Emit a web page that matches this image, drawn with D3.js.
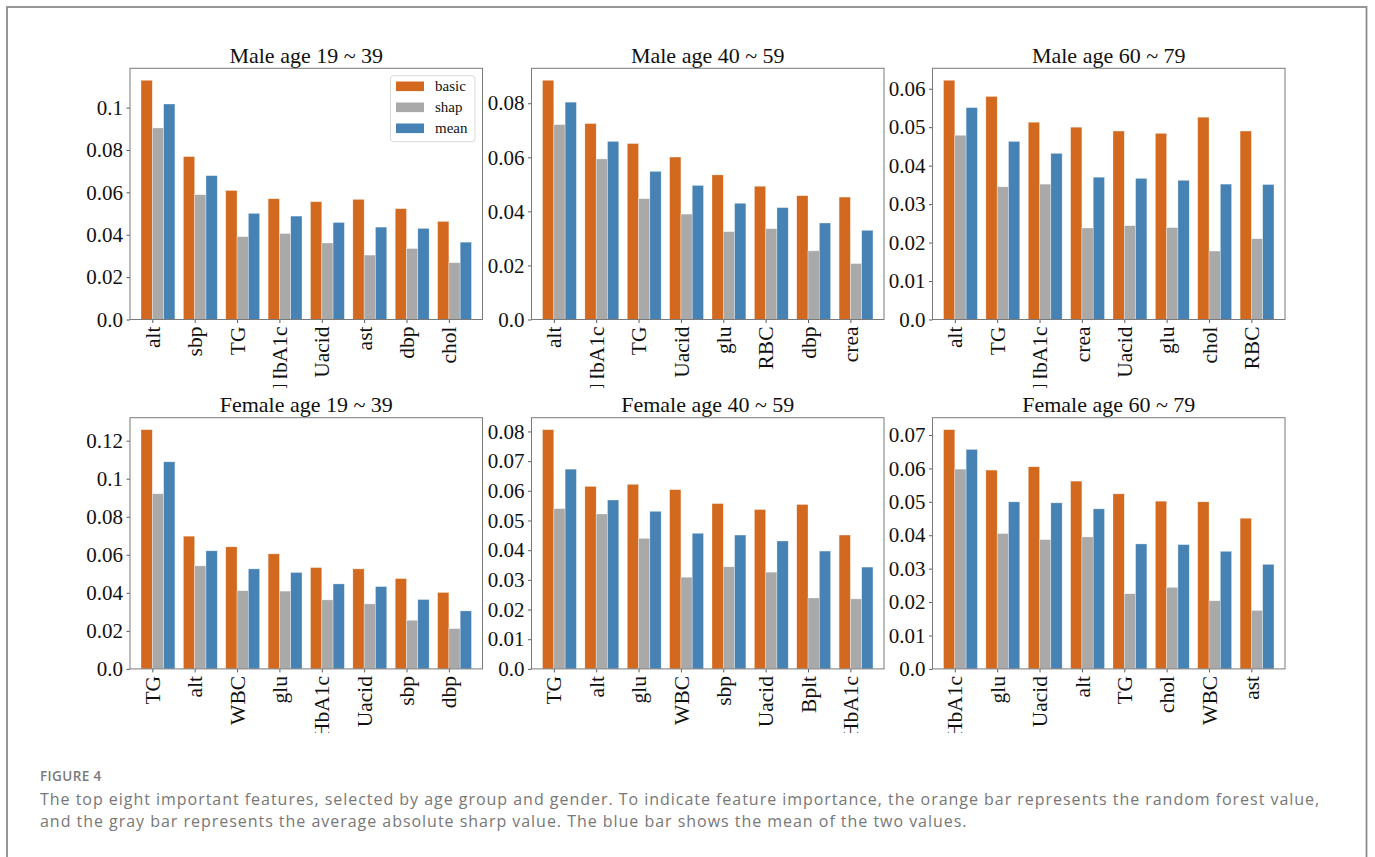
<!DOCTYPE html>
<html>
<head>
<meta charset="utf-8">
<script src="https://cdn.jsdelivr.net/npm/d3@7"></script>
<style>
  html, body { margin: 0; padding: 0; background: #fff; }
  svg { display: block; }
</style>
</head>
<body>
<svg id="fig" width="1375" height="857"></svg>
<script>
// Series names and colours
const seriesNames = ["basic", "shap", "mean"];
const seriesColors = ["#d2691e", "#a9a9a9", "#4682b4"];

// Male 19 ~ 39
const featM1 = ["alt", "sbp", "TG", "HbA1c", "Uacid", "ast", "dbp", "chol"];
const basicM1 = [0.1129, 0.0769, 0.0609, 0.0570, 0.0556, 0.0567, 0.0523, 0.0463];
const shapM1  = [0.0904, 0.0589, 0.0391, 0.0406, 0.0361, 0.0304, 0.0335, 0.0268];
const meanM1  = [0.1017, 0.0679, 0.0501, 0.0488, 0.0458, 0.0436, 0.0430, 0.0365];
const ticksM1 = ["0.0", "0.02", "0.04", "0.06", "0.08", "0.1"];

// Male 40 ~ 59
const featM2 = ["alt", "HbA1c", "TG", "Uacid", "glu", "RBC", "dbp", "crea"];
const basicM2 = [0.0885, 0.0725, 0.0651, 0.0601, 0.0535, 0.0493, 0.0458, 0.0453];
const shapM2  = [0.0721, 0.0594, 0.0447, 0.0390, 0.0325, 0.0336, 0.0254, 0.0207];
const meanM2  = [0.0804, 0.0659, 0.0548, 0.0496, 0.0430, 0.0414, 0.0357, 0.0330];
const ticksM2 = ["0.0", "0.02", "0.04", "0.06", "0.08"];

// Male 60 ~ 79
const featM3 = ["alt", "TG", "HbA1c", "crea", "Uacid", "glu", "chol", "RBC"];
const basicM3 = [0.0622, 0.0580, 0.0513, 0.0500, 0.0490, 0.0484, 0.0526, 0.0490];
const shapM3  = [0.0479, 0.0345, 0.0352, 0.0238, 0.0244, 0.0239, 0.0178, 0.0210];
const meanM3  = [0.0551, 0.0463, 0.0432, 0.0370, 0.0367, 0.0362, 0.0352, 0.0351];
const ticksM3 = ["0.0", "0.01", "0.02", "0.03", "0.04", "0.05", "0.06"];

// Female 19 ~ 39
const featF1 = ["TG", "alt", "WBC", "glu", "HbA1c", "Uacid", "sbp", "dbp"];
const basicF1 = [0.1258, 0.0698, 0.0642, 0.0605, 0.0533, 0.0526, 0.0475, 0.0402];
const shapF1  = [0.0921, 0.0542, 0.0411, 0.0409, 0.0363, 0.0342, 0.0256, 0.0212];
const meanF1  = [0.1089, 0.0621, 0.0526, 0.0507, 0.0447, 0.0433, 0.0365, 0.0305];
const ticksF1 = ["0.0", "0.02", "0.04", "0.06", "0.08", "0.1", "0.12"];

// Female 40 ~ 59
const featF2 = ["TG", "alt", "glu", "WBC", "sbp", "Uacid", "Bplt", "HbA1c"];
const basicF2 = [0.0806, 0.0615, 0.0622, 0.0604, 0.0557, 0.0537, 0.0554, 0.0451];
const shapF2  = [0.0540, 0.0522, 0.0440, 0.0309, 0.0344, 0.0326, 0.0239, 0.0236];
const meanF2  = [0.0673, 0.0569, 0.0531, 0.0457, 0.0451, 0.0431, 0.0397, 0.0343];
const ticksF2 = ["0.0", "0.01", "0.02", "0.03", "0.04", "0.05", "0.06", "0.07", "0.08"];

// Female 60 ~ 79
const featF3 = ["HbA1c", "glu", "Uacid", "alt", "TG", "chol", "WBC", "ast"];
const basicF3 = [0.0716, 0.0595, 0.0605, 0.0562, 0.0524, 0.0502, 0.0500, 0.0451];
const shapF3  = [0.0598, 0.0405, 0.0387, 0.0395, 0.0225, 0.0244, 0.0204, 0.0175];
const meanF3  = [0.0657, 0.0500, 0.0497, 0.0479, 0.0374, 0.0372, 0.0352, 0.0313];
const ticksF3 = ["0.0", "0.01", "0.02", "0.03", "0.04", "0.05", "0.06", "0.07"];

const titles = ["Male age 19 ~ 39", "Male age 40 ~ 59", "Male age 60 ~ 79",
                "Female age 19 ~ 39", "Female age 40 ~ 59", "Female age 60 ~ 79"];

const captionHead = "FIGURE 4";
const captionLines = [
  "The top eight important features, selected by age group and gender. To indicate feature importance, the orange bar represents the random forest value,",
  "and the gray bar represents the average absolute sharp value. The blue bar shows the mean of the two values."
];

const panels = [
  { feats: featM1, vals: [basicM1, shapM1, meanM1], ticks: ticksM1, legend: true },
  { feats: featM2, vals: [basicM2, shapM2, meanM2], ticks: ticksM2 },
  { feats: featM3, vals: [basicM3, shapM3, meanM3], ticks: ticksM3 },
  { feats: featF1, vals: [basicF1, shapF1, meanF1], ticks: ticksF1 },
  { feats: featF2, vals: [basicF2, shapF2, meanF2], ticks: ticksF2 },
  { feats: featF3, vals: [basicF3, shapF3, meanF3], ticks: ticksF3 }
].map((p, i) => Object.assign(p, { title: titles[i] }));

// ---- layout ----
const svg = d3.select("#fig");
const serif = "'Liberation Serif', 'Times New Roman', serif";
const colLeft = [130, 531.5, 932.5];
const rowTop = [68.3, 417.7];
const plotW = 352.5, plotH = 251.2;
// visible vertical bands for the rotated category labels of each row
const labelBands = [[[319, 378], [385, 396]], [[669, 733]]];
const barW = 0.8 / 3;
const xPad = 0.26;

// outer frame
svg.append("rect")
  .attr("x", 7).attr("y", 7).attr("width", 1359.5).attr("height", 870)
  .attr("fill", "none").attr("stroke", "#8c8c8c").attr("stroke-width", 1.8);

const defs = svg.append("defs");

panels.forEach((p, i) => {
  const row = Math.floor(i / 3), col = i % 3;
  const left = colLeft[col], top = rowTop[row];
  const g = svg.append("g").attr("transform", `translate(${left},${top})`);
  const n = p.feats.length;

  const x = d3.scaleLinear()
    .domain([-barW / 2 - xPad, (n - 1) + 2.5 * barW + xPad])
    .range([0, plotW]);
  const ymax = d3.max(p.vals.flat()) * 1.05;
  const y = d3.scaleLinear().domain([0, ymax]).range([plotH, 0]);

  // bars: one group per series
  p.vals.forEach((series, s) => {
    g.append("g").selectAll("rect")
      .data(series)
      .join("rect")
      .attr("x", (d, k) => x(k + s * barW - barW / 2))
      .attr("width", x(barW) - x(0))
      .attr("y", d => y(d))
      .attr("height", d => y(0) - y(d))
      .attr("fill", seriesColors[s])
      .attr("stroke", "#ffffff")
      .attr("stroke-opacity", 0.55)
      .attr("stroke-width", 0.6);
  });

  // y axis
  const yTickVals = p.ticks.map(Number);
  const yAxis = d3.axisLeft(y).tickValues(yTickVals)
    .tickFormat((d, k) => p.ticks[k]).tickSizeOuter(0).tickSize(3.5).tickPadding(3.5);
  const ya = g.append("g").call(yAxis);
  ya.select(".domain").remove();
  ya.selectAll(".tick line").attr("stroke", "#333").attr("stroke-width", 0.8);
  ya.selectAll(".tick text")
    .attr("font-family", serif).attr("font-size", 21).attr("fill", "#111");

  // x axis with rotated labels, cut off below the row
  const clipId = "clip" + i;
  const cp = defs.append("clipPath").attr("id", clipId);
  const base = top + plotH;
  labelBands[row].forEach(([y0, y1]) => {
    cp.append("rect").attr("x", -60).attr("y", y0 - base)
      .attr("width", plotW + 120).attr("height", y1 - y0);
  });
  const xAxis = d3.axisBottom(x)
    .tickValues(d3.range(n).map(k => k + barW / 2))
    .tickFormat((d, k) => p.feats[k]).tickSizeOuter(0).tickSize(3.5).tickPadding(3.5);
  const xa = g.append("g").attr("transform", `translate(0,${plotH})`)
    .attr("clip-path", `url(#${clipId})`).call(xAxis);
  xa.select(".domain").remove();
  xa.selectAll(".tick line").attr("stroke", "#333").attr("stroke-width", 0.8);
  xa.selectAll(".tick text")
    .attr("font-family", serif).attr("font-size", 21.5).attr("fill", "#111")
    .attr("transform", "rotate(-90)")
    .attr("text-anchor", "end")
    .attr("x", -7).attr("y", 0).attr("dy", "0.33em");

  // frame
  g.append("rect").attr("width", plotW).attr("height", plotH)
    .attr("fill", "none").attr("stroke", "#7a7a7a").attr("stroke-width", 1);

  // title
  g.append("text").attr("x", plotW / 2).attr("y", -5.8)
    .attr("text-anchor", "middle")
    .attr("font-family", serif).attr("font-size", 22).attr("fill", "#111")
    .text(p.title);

  // legend
  if (p.legend) {
    const lg = g.append("g").attr("transform", `translate(${plotW - 92},${7.4})`);
    lg.append("rect").attr("width", 84.5).attr("height", 66).attr("rx", 3)
      .attr("fill", "#fff").attr("fill-opacity", 0.8)
      .attr("stroke", "#d8d8d8").attr("stroke-width", 1);
    seriesNames.forEach((name, s) => {
      const cy = 10.6 + s * 21;
      lg.append("rect").attr("x", 5.5).attr("y", cy - 4.8)
        .attr("width", 28).attr("height", 9.6).attr("fill", seriesColors[s]);
      lg.append("text").attr("x", 44.5).attr("y", cy).attr("dy", "0.33em")
        .attr("font-family", serif).attr("font-size", 15).attr("fill", "#111")
        .text(name);
    });
  }
});

// caption
const sans = "'Open Sans', 'Noto Sans', sans-serif";
svg.append("text").attr("x", 40).attr("y", 781)
  .attr("font-family", sans).attr("font-size", 13.5).attr("font-weight", 600)
  .attr("letter-spacing", 0.4)
  .attr("fill", "#7a7a7a").text(captionHead);
captionLines.forEach((t, k) => {
  svg.append("text").attr("x", 40).attr("y", 805 + k * 22)
    .attr("font-family", sans).attr("font-size", 16)
    .attr("letter-spacing", 0.97)
    .attr("fill", "#777777").text(t);
});
</script>
</body>
</html>
